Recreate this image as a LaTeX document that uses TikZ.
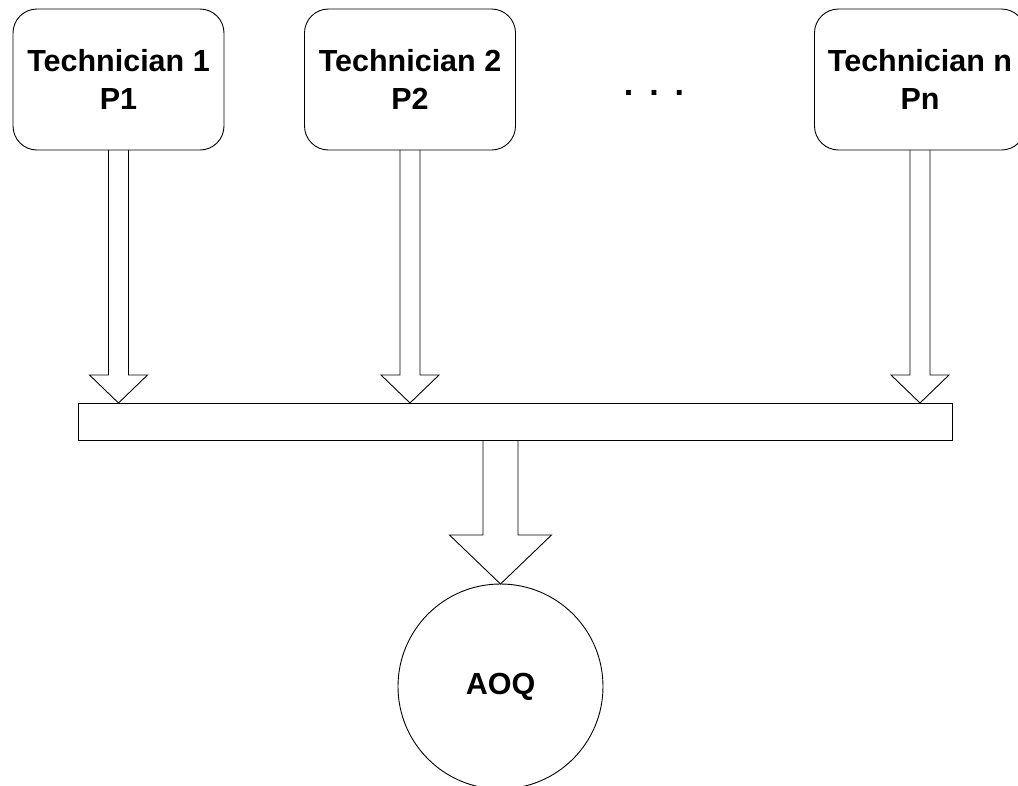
\documentclass[tikz,border=0pt]{standalone}
\usepackage{fontspec}
\setmainfont{Liberation Sans}
\usetikzlibrary{calc,positioning}

\tikzset{
  every node/.style={inner sep=0pt, outer sep=0pt},
  tech/.style={draw, line width=0.9pt, rounded corners=24pt,
    minimum width=211pt, minimum height=141pt, align=center,
    font=\fontsize{30.5}{38}\selectfont\bfseries},
  busbar/.style={draw, line width=0.9pt, minimum width=874pt, minimum height=37pt},
  result/.style={draw, line width=0.9pt, circle, minimum size=205pt,
    font=\fontsize{30.5}{36}\selectfont\bfseries},
  blockline/.style={draw, line width=0.9pt, line join=miter},
  label/.style={font=\fontsize{34}{38}\selectfont\bfseries}
}

% hollow block arrow: start node, tip point, shaft half width,
% head half width, head length
\newcommand\hollowarrow[5]{%
  \path[blockline] let \p1=(#1), \p2=(#2) in
    (\x2-#3,\y1) -- (\x2-#3,\y2+#5) -- (\x2-#4,\y2+#5) -- (\x2,\y2)
    -- (\x2+#4,\y2+#5) -- (\x2+#3,\y2+#5) -- (\x2+#3,\y1);}

\begin{document}
\begin{tikzpicture}[x=1pt,y=-1pt]
  \useasboundingbox (0,0) rectangle (1018,785);
  \clip (0,0) rectangle (1018,785);

  % technicians
  \node[tech] (t1) at (118.5,79.5) {Technician 1\\P1};
  \node[tech] (t2) at (410,79.5) {Technician 2\\P2};
  \node[tech] (tn) at (920,79.5) {Technician n\\Pn};
  \node[label, anchor=base] (dots) at (654,95)
    {.\hspace{16pt}.\hspace{16pt}.};

  % collecting bar and result
  \node[busbar] (bar) at (515,421.5) {};
  \node[result] (aoq) at (500.5,686.5) {AOQ};

  % tips on the bar and on the circle
  \coordinate (tip1) at (t1.south |- bar.north);
  \coordinate (tip2) at (t2.south |- bar.north);
  \coordinate (tipn) at (tn.south |- bar.north);
  \coordinate (barout) at (aoq.north |- bar.south);

  % block arrows
  \hollowarrow{t1.south}{tip1}{10pt}{29pt}{28pt}
  \hollowarrow{t2.south}{tip2}{10pt}{29pt}{28pt}
  \hollowarrow{tn.south}{tipn}{10pt}{29pt}{28pt}
  \hollowarrow{barout}{aoq.north}{17.5pt}{51pt}{49pt}
\end{tikzpicture}
\end{document}
